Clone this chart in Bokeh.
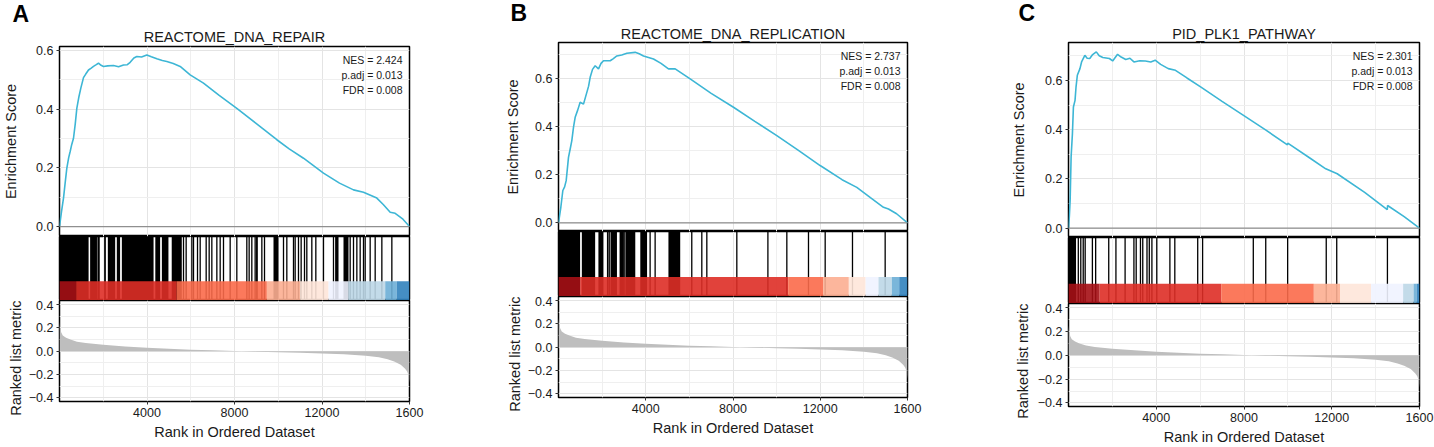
from bokeh.plotting import figure
from bokeh.models import Range1d, FixedTicker, Grid, Label, Span, Title, CustomJSTickFormatter
from bokeh.layouts import column, row
from bokeh.embed import file_html
from bokeh.resources import INLINE

FONT = "Liberation Sans"
TXT = "#1a1a1a"
ES_COLOR = "#3db6d5"
GRID_MAJOR = "#e4e4e4"
GRID_MINOR = "#efefef"
METRIC_COLOR = "#bebebe"

# ---------------- data ----------------
N_GENES = 16000
rank_ticks = [4000, 8000, 12000, 16000]
rank_minor = [2000, 6000, 10000, 14000]
es_ticks = [0.0, 0.2, 0.4, 0.6]
es_minor = [0.1, 0.3, 0.5, 0.7]
metric_ticks = [-0.4, -0.2, 0.0, 0.2, 0.4]
metric_minor = [-0.3, -0.1, 0.1, 0.3]

titles = ["REACTOME_DNA_REPAIR", "REACTOME_DNA_REPLICATION", "PID_PLK1_PATHWAY"]
letters = ["A", "B", "C"]
nes_values = ["2.424", "2.737", "2.301"]
padj_values = ["0.013", "0.013", "0.013"]
fdr_values = ["0.008", "0.008", "0.008"]

# running enrichment score, panel A
es_rank_A = [0, 90, 183, 260, 335, 420, 488, 560, 640, 720, 792, 880, 975, 1097, 1200, 1326, 1450,
             1554, 1680, 1783, 1900, 2011, 2200, 2468, 2700, 2925, 3100, 3230, 3400, 3535, 3750,
             3992, 4200, 4449, 4700, 4906, 5200, 5516, 5973, 6582, 7300, 8106, 9000, 9935, 10500,
             11154, 12068, 12800, 13440, 13897, 14507, 14800, 15117, 15345, 15700, 16000]
es_score_A = [0, 0.05, 0.097, 0.15, 0.199, 0.235, 0.256, 0.28, 0.301, 0.35, 0.403, 0.44, 0.472,
              0.508, 0.52, 0.534, 0.54, 0.546, 0.552, 0.557, 0.55, 0.546, 0.548, 0.549, 0.545,
              0.551, 0.552, 0.56, 0.575, 0.58, 0.578, 0.585, 0.579, 0.572, 0.566, 0.563, 0.556,
              0.546, 0.517, 0.489, 0.447, 0.403, 0.351, 0.296, 0.265, 0.233, 0.182, 0.148, 0.125,
              0.117, 0.097, 0.075, 0.049, 0.045, 0.025, 0.0]

# panel B
es_rank_B = [0, 107, 199, 280, 352, 458, 540, 611, 690, 764, 880, 993, 1146, 1299, 1380, 1452,
             1560, 1681, 1834, 1950, 2063, 2369, 2500, 2674, 2900, 3133, 3515, 3700, 3897, 4355,
             4700, 5043, 5349, 6036, 7000, 8022, 9000, 10009, 11000, 11995, 13000, 13676, 14300,
             14899, 15128, 15500, 16000]
es_score_B = [0, 0.065, 0.135, 0.15, 0.176, 0.273, 0.31, 0.343, 0.4, 0.44, 0.47, 0.503, 0.495,
              0.544, 0.57, 0.607, 0.64, 0.655, 0.642, 0.665, 0.676, 0.676, 0.684, 0.696, 0.7,
              0.707, 0.711, 0.705, 0.696, 0.683, 0.665, 0.642, 0.642, 0.6, 0.54, 0.482, 0.423,
              0.364, 0.302, 0.239, 0.18, 0.148, 0.105, 0.065, 0.058, 0.038, 0.0]

# panel C
es_rank_C = [0, 40, 75, 119, 179, 224, 298, 343, 403, 522, 596, 745, 850, 969, 1100, 1267, 1400,
             1565, 1864, 2013, 2237, 2400, 2610, 2800, 2982, 3250, 3504, 3750, 3951, 4200, 4548,
             4876, 5400, 6039, 7000, 7977, 9000, 9980, 9995, 11000, 11727, 12249, 13500, 14530,
             14545, 15300, 16000]
es_score_C = [0, 0.05, 0.113, 0.289, 0.384, 0.492, 0.519, 0.573, 0.621, 0.648, 0.675, 0.702,
              0.69, 0.689, 0.705, 0.716, 0.7, 0.693, 0.689, 0.679, 0.706, 0.695, 0.685, 0.69,
              0.675, 0.68, 0.679, 0.675, 0.682, 0.665, 0.648, 0.641, 0.61, 0.573, 0.515, 0.458,
              0.398, 0.338, 0.345, 0.285, 0.241, 0.221, 0.145, 0.075, 0.092, 0.047, 0.0]

# gene-set hits (single genes) and runs of hits too dense to separate
hits_A = [1700, 5669, 5790, 6050, 6126, 6309, 6431, 6705, 6842, 6964, 7193, 7345, 7497, 7802,
          8106, 8563, 8670, 8792, 8944, 9020, 9250, 9372, 10240, 10392, 10697, 10773, 10925,
          11047, 11200, 11306, 11535, 11718, 12068, 12525, 13288, 13440, 13593, 13745, 13897,
          13974, 14202, 14431, 14736, 15193]
dense_start_A = [0, 1400, 1740, 2040, 2210, 2620, 2850, 4380, 4680, 5130, 8990, 9783, 12600, 12983]
dense_end_A = [1330, 1680, 1840, 2120, 2545, 2770, 4300, 4600, 4980, 5590, 9060, 10012, 12755, 13212]

hits_B = [2350, 3040, 4200, 4430, 6110, 6570, 6800, 8175, 9600, 10468, 11461, 12226, 13478, 14976]
dense_start_B = [0, 1070, 1830, 2220, 2400, 2800, 3080, 3750, 5040]
dense_end_B = [990, 1680, 2060, 2300, 2680, 3000, 3520, 4060, 5580]

hits_C = [447, 560, 671, 760, 1089, 1238, 1834, 2162, 2580, 2982, 3086, 3280, 3385, 3578, 3683,
          3802, 4025, 4622, 4846, 5890, 6113, 8424, 8991, 9990, 11749, 12227, 14538]
dense_start_C = [0]
dense_end_C = [343]

# colour bar of the ranked list
bar_palette = ["#a50f15", "#de2d26", "#fb6a4a", "#fcae91", "#fee5d9",
               "#eff3ff", "#bdd7e7", "#6baed6", "#3182bd"]
bar_start_A = [0, 760, 5360, 9480, 11000, 12300, 13200, 14890, 15420]
bar_end_A = [760, 5360, 9480, 11000, 12300, 13200, 14890, 15420, 16000]
bar_start_B = [0, 993, 10530, 12130, 13310, 14080, 14670, 15282, 15620]
bar_end_B = [993, 10530, 12130, 13310, 14080, 14670, 15282, 15620, 16000]
bar_start_C = [0, 1420, 6963, 11183, 12376, 13792, 15253, 15731, 15880]
bar_end_C = [1420, 6963, 11183, 12376, 13792, 15253, 15731, 15880, 16000]

# ranked list metric
metric_rank = [0, 30, 80, 150, 300, 500, 800, 1200, 2000, 3000, 4000, 5000, 6000, 7000, 8000,
               9000, 10000, 11000, 12000, 13000, 14000, 14600, 15000, 15300, 15600, 15800, 15900,
               15960, 16000]
metric_value = [0.25, 0.2, 0.16, 0.135, 0.115, 0.1, 0.082, 0.07, 0.056, 0.042, 0.03, 0.021,
                0.014, 0.008, 0.002, -0.003, -0.008, -0.013, -0.018, -0.025, -0.038, -0.05,
                -0.068, -0.088, -0.115, -0.15, -0.175, -0.21, -0.27]

panels = [
    dict(es_x=es_rank_A, es_y=es_score_A, es_range=(-0.034, 0.614), hits=hits_A,
         ds=dense_start_A, de=dense_end_A, bs=bar_start_A, be=bar_end_A,
         lb=56, rb=91, fw=350, top=45, es_h=190, hits_h=64, rank_h=101, bottom=47,
         es_lab=14, rank_lab=4, letter_dx=-47, t_so=4, l_so=-4),
    dict(es_x=es_rank_B, es_y=es_score_B, es_range=(-0.036, 0.752), hits=hits_B,
         ds=dense_start_B, de=dense_end_B, bs=bar_start_B, be=bar_end_B,
         lb=58, rb=101, fw=349, top=42, es_h=189, hits_h=65, rank_h=101, bottom=50,
         es_lab=11, rank_lab=4, letter_dx=-48, t_so=2, l_so=-6),
    dict(es_x=es_rank_C, es_y=es_score_C, es_range=(-0.038, 0.754), hits=hits_C,
         ds=dense_start_C, de=dense_end_C, bs=bar_start_C, be=bar_end_C,
         lb=60, rb=18, fw=351, top=42, es_h=195, hits_h=66, rank_h=103, bottom=41,
         es_lab=15, rank_lab=8, letter_dx=-50, t_so=2, l_so=-6),
]

FMT1 = CustomJSTickFormatter(code="return tick.toFixed(1).replace('-', '\u2212');")
FMTX = CustomJSTickFormatter(code="return tick == 16000 ? '1600' : tick.toFixed(0);")


def add_grid(p, dim, major, minor):
    g = Grid(dimension=dim, ticker=FixedTicker(ticks=major, minor_ticks=minor),
             grid_line_color=GRID_MAJOR, grid_line_width=1,
             minor_grid_line_color=GRID_MINOR, minor_grid_line_width=1)
    p.add_layout(g)


def base_fig(xr, yr, fw, fh, lb, rb, tb, bb, x_axis, y_axis):
    p = figure(x_range=xr, y_range=yr, frame_width=fw, frame_height=fh,
               output_backend="svg", toolbar_location=None, title_location=None,
               x_axis_location="below" if x_axis else None,
               y_axis_location="left" if y_axis else None,
               min_border_left=lb, min_border_right=rb,
               min_border_top=tb, min_border_bottom=bb)
    p.xgrid.visible = False
    p.ygrid.visible = False
    p.outline_line_color = "black"
    p.outline_line_width = 1.5
    p.background_fill_color = "white"
    p.border_fill_color = "white"
    return p


def style_axis(ax, label, standoff):
    ax.axis_label = label
    ax.axis_label_text_font = FONT
    ax.axis_label_text_font_size = "14.5px"
    ax.axis_label_text_font_style = "normal"
    ax.axis_label_text_color = TXT
    ax.axis_label_standoff = standoff
    ax.major_label_text_font = FONT
    ax.major_label_text_font_size = "12.5px"
    ax.major_label_text_color = TXT
    ax.major_label_standoff = 3
    ax.major_tick_out = 3
    ax.major_tick_in = 0
    ax.major_tick_line_color = "#333333"
    ax.minor_tick_out = 0
    ax.minor_tick_in = 0
    ax.axis_line_color = None


cols = []
for i, c in enumerate(panels):
    xr = Range1d(0, N_GENES)

    # --- enrichment score ---
    es = base_fig(xr, Range1d(*c["es_range"]), c["fw"], c["es_h"], c["lb"], c["rb"],
                  c["top"], 0, False, True)
    add_grid(es, 0, rank_ticks[:-1], rank_minor)
    add_grid(es, 1, es_ticks, es_minor)
    es.add_layout(Span(location=0, dimension="width", line_color="#8f8f8f", line_width=1.3))
    es.line(c["es_x"], c["es_y"], line_color=ES_COLOR, line_width=1.6)
    ax = es.yaxis[0]
    ax.ticker = FixedTicker(ticks=es_ticks)
    ax.formatter = FMT1
    style_axis(ax, "Enrichment Score", c["es_lab"])
    es.add_layout(Title(text=titles[i], align="center", standoff=c["t_so"], text_font=FONT,
                        text_font_size="14.5px", text_font_style="normal", text_color=TXT),
                  "above")
    es.add_layout(Title(text=letters[i], align="left", offset=c["letter_dx"],
                        standoff=c["l_so"], text_font=FONT, text_font_size="23px",
                        text_font_style="bold", text_color="black"), "above")
    stats = ["NES = " + nes_values[i], "p.adj = " + padj_values[i], "FDR = " + fdr_values[i]]
    for k, s in enumerate(stats):
        es.add_layout(Label(x=N_GENES, y=c["es_range"][1], x_offset=-7, y_offset=-13 - 15 * k,
                            text=s, text_align="right", text_baseline="middle",
                            text_font=FONT, text_font_size="10.5px", text_color=TXT))

    # --- hits + colour bar ---
    hp = base_fig(xr, Range1d(0, 1), c["fw"], c["hits_h"], c["lb"], c["rb"], 0, 0, False, False)
    add_grid(hp, 0, rank_ticks[:-1], rank_minor)
    hp.segment(x0=c["hits"], y0=0, x1=c["hits"], y1=1, line_color="black", line_width=1.3)
    hp.quad(left=c["ds"], right=c["de"], bottom=0, top=1, fill_color="black", line_color=None)
    hp.quad(left=c["bs"], right=c["be"], bottom=0, top=0.3, fill_color=bar_palette,
            fill_alpha=0.9, line_color=None)

    # --- ranked list metric ---
    rp = base_fig(xr, Range1d(-0.43, 0.435), c["fw"], c["rank_h"], c["lb"], c["rb"], 0,
                  c["bottom"], True, True)
    add_grid(rp, 0, rank_ticks[:-1], rank_minor)
    add_grid(rp, 1, metric_ticks, metric_minor)
    rp.varea(x=metric_rank, y1=0, y2=metric_value, fill_color=METRIC_COLOR)
    ay = rp.yaxis[0]
    ay.ticker = FixedTicker(ticks=metric_ticks)
    ay.formatter = FMT1
    style_axis(ay, "", 0)
    rp.add_layout(Title(text="Ranked list metric", align="right",
                        standoff=c["rank_lab"], text_font=FONT, text_font_size="14.5px",
                        text_font_style="normal", text_color=TXT), "left")
    axx = rp.xaxis[0]
    axx.ticker = FixedTicker(ticks=rank_ticks)
    axx.formatter = FMTX
    style_axis(axx, "Rank in Ordered Dataset", 4)

    cols.append(column(es, hp, rp, spacing=0))

layout = row(*cols, spacing=0)

open("out.html", "w").write(file_html(layout, INLINE))
